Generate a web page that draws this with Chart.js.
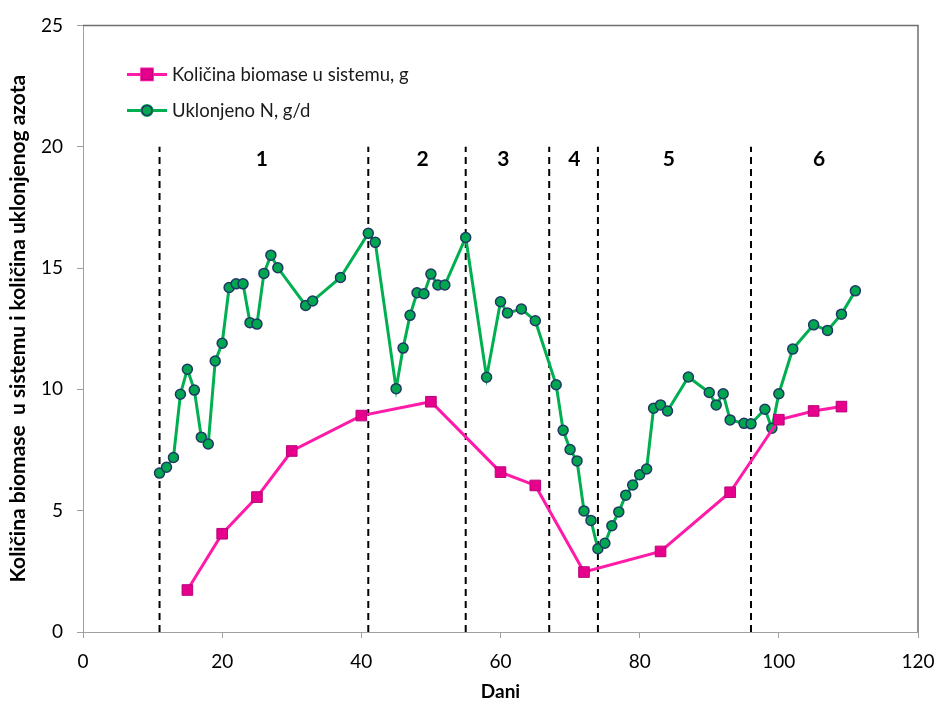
<!DOCTYPE html>
<html>
<head>
<meta charset="utf-8">
<script src="https://cdn.jsdelivr.net/npm/chart.js@4.4.1/dist/chart.umd.min.js"></script>
<style>
  html, body { margin: 0; padding: 0; background: #fff; }
  #wrap { width: 936px; height: 704px; }
</style>
</head>
<body>
<div id="wrap"><canvas id="chart" width="936" height="704"></canvas></div>
<script>
// Količina biomase u sistemu, g
const biomassDays = [15, 20, 25, 30, 40, 50, 60, 65, 72, 83, 93, 100, 105, 109];
const biomassValues = [1.73, 4.05, 5.56, 7.46, 8.92, 9.49, 6.59, 6.04, 2.47, 3.32, 5.76, 8.75, 9.11, 9.29];

// Uklonjeno N, g/d
const removedDays = [11, 12, 13, 14, 15, 16, 17, 18, 19, 20, 21, 22, 23, 24, 25, 26, 27, 28, 32, 33, 37,
  41, 42, 45, 46, 47, 48, 49, 50, 51, 52, 55, 58, 60, 61, 63, 65, 68, 69, 70, 71, 72, 73, 74, 75, 76,
  77, 78, 79, 80, 81, 82, 83, 84, 87, 90, 91, 92, 93, 95, 96, 98, 99, 100, 102, 105, 107, 109, 111];
const removedValues = [6.55, 6.79, 7.19, 9.80, 10.83, 9.97, 8.03, 7.75, 11.17, 11.90, 14.20, 14.35, 14.35,
  12.75, 12.69, 14.78, 15.53, 15.01, 13.46, 13.64, 14.61, 16.43, 16.06, 10.03, 11.70, 13.05, 13.98, 13.94,
  14.75, 14.30, 14.30, 16.26, 10.50, 13.61, 13.15, 13.31, 12.83, 10.19, 8.31, 7.52, 7.05, 4.99, 4.60, 3.43,
  3.66, 4.38, 4.95, 5.64, 6.06, 6.48, 6.72, 9.22, 9.36, 9.11, 10.51, 9.87, 9.36, 9.82, 8.74, 8.60, 8.58,
  9.18, 8.40, 9.82, 11.66, 12.66, 12.43, 13.10, 14.06];

// phases
const phaseBounds = [11, 41, 55, 67, 74, 96];
const phaseTop = 20;
const phaseNames = ['1', '2', '3', '4', '5', '6'];
const phaseNameDays = [25.7, 48.8, 60.4, 70.6, 84.2, 105.8];
const phaseNameLevel = 19.5;

const FONT = 'Lato, "Open Sans", sans-serif';
const PINK = '#ff1aa8';
const GREEN = '#00b050';

const toPoints = (xs, ys) => xs.map((x, i) => ({ x, y: ys[i] }));

const datasets = [
  {
    label: 'Količina biomase u sistemu, g',
    data: toPoints(biomassDays, biomassValues),
    borderColor: PINK,
    borderWidth: 3,
    pointStyle: 'rect',
    pointRadius: 7.5,
    pointBackgroundColor: '#e6008c',
    pointBorderColor: '#b8007a',
    pointBorderWidth: 1,
    order: 0
  },
  {
    label: 'Uklonjeno N, g/d',
    data: toPoints(removedDays, removedValues),
    borderColor: GREEN,
    borderWidth: 3,
    pointStyle: 'circle',
    pointRadius: 5,
    pointBackgroundColor: '#00a650',
    pointBorderColor: '#1f3864',
    pointBorderWidth: 1.5,
    order: 1
  }
];

phaseBounds.forEach(d => {
  datasets.push({
    label: 'phase ' + d,
    data: [{ x: d, y: 0 }, { x: d, y: phaseTop }],
    borderColor: '#000',
    borderWidth: 2,
    borderDash: [7, 5],
    pointRadius: 0,
    order: 2
  });
});

const phaseLabels = {
  id: 'phaseLabels',
  afterDatasetsDraw(chart) {
    const { ctx, scales } = chart;
    ctx.save();
    ctx.fillStyle = '#000';
    ctx.font = 'bold 21px ' + FONT;
    ctx.textAlign = 'center';
    ctx.textBaseline = 'middle';
    phaseNames.forEach((name, i) => {
      ctx.fillText(name, scales.x.getPixelForValue(phaseNameDays[i]), scales.y.getPixelForValue(phaseNameLevel));
    });
    ctx.restore();
  }
};

const frame = {
  id: 'frame',
  afterDraw(chart) {
    const { ctx, chartArea: a } = chart;
    ctx.save();
    ctx.strokeStyle = '#6e6e6e';
    ctx.lineWidth = 1.5;
    ctx.beginPath();
    ctx.moveTo(a.left, a.top);
    ctx.lineTo(a.right, a.top);
    ctx.lineTo(a.right, a.bottom);
    ctx.stroke();
    ctx.restore();
  }
};

const insideLegend = {
  id: 'insideLegend',
  afterDraw(chart) {
    const { ctx, chartArea: a } = chart;
    const x0 = a.left + 44, x1 = a.left + 84, tx = a.left + 89;
    const rows = [
      { y: a.top + 49, ds: chart.data.datasets[0] },
      { y: a.top + 85, ds: chart.data.datasets[1] }
    ];
    ctx.save();
    rows.forEach(r => {
      ctx.strokeStyle = r.ds.borderColor;
      ctx.lineWidth = 3;
      ctx.beginPath();
      ctx.moveTo(x0, r.y);
      ctx.lineTo(x1, r.y);
      ctx.stroke();
      Chart.helpers.drawPoint(ctx, {
        pointStyle: r.ds.pointStyle,
        radius: r.ds.pointRadius,
        borderWidth: r.ds.pointBorderWidth
      }, (x0 + x1) / 2, r.y);
      ctx.fillStyle = r.ds.pointBackgroundColor;
      ctx.strokeStyle = r.ds.pointBorderColor;
      ctx.lineWidth = r.ds.pointBorderWidth;
      ctx.fill();
      ctx.stroke();
      ctx.fillStyle = '#1a1a1a';
      ctx.font = '18.5px ' + FONT;
      ctx.textAlign = 'left';
      ctx.textBaseline = 'middle';
      ctx.fillText(r.ds.label, tx, r.y + 1);
    });
    ctx.restore();
  }
};

new Chart(document.getElementById('chart'), {
  type: 'line',
  data: { datasets },
  options: {
    responsive: false,
    animation: false,
    devicePixelRatio: 1,
    layout: { padding: { top: 25, right: 18, left: 0, bottom: 0 } },
    plugins: {
      legend: { display: false },
      tooltip: { enabled: false }
    },
    scales: {
      x: {
        type: 'linear',
        min: 0,
        max: 120,
        ticks: { stepSize: 20, color: '#000', font: { family: FONT, size: 19 }, padding: 12 },
        grid: { drawOnChartArea: false, tickLength: 6, color: '#a0a0a0' },
        border: { color: '#a0a0a0', width: 1 },
        title: {
          display: true,
          text: 'Dani',
          color: '#000',
          font: { family: FONT, size: 19, weight: 'bold' },
          padding: { top: 0, bottom: 1 }
        },
        afterFit: s => { s.height = 72; s.paddingLeft = 0; s.paddingRight = 0; }
      },
      y: {
        min: 0,
        max: 25,
        ticks: { stepSize: 5, color: '#000', font: { family: FONT, size: 19 }, padding: 14 },
        grid: { drawOnChartArea: false, tickLength: 6, color: '#a0a0a0' },
        border: { color: '#a0a0a0', width: 1 },
        title: {
          display: true,
          text: 'Količina biomase  u sistemu i količina uklonjenog azota',
          color: '#000',
          font: { family: FONT, size: 21, weight: 'bold' },
          padding: { top: 6, bottom: 0 }
        },
        afterFit: s => { s.width = 83; }
      }
    }
  },
  plugins: [phaseLabels, frame, insideLegend]
});
</script>
</body>
</html>
